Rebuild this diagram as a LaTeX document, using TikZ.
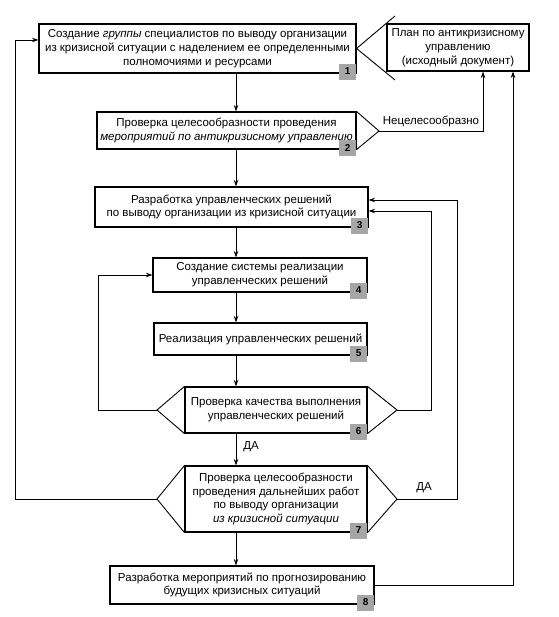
\documentclass[tikz,border=0pt]{standalone}
\usepackage{fontspec}
\setmainfont{Liberation Sans}
\usetikzlibrary{arrows.meta}
\begin{document}
\begin{tikzpicture}[x=1pt,y=-1pt,
  ln/.style={line width=0.9pt},
  arr/.style={line width=0.9pt,-{Stealth[length=6.5pt,width=4.5pt]}},
  box/.style={draw,line width=1.1pt,align=center,inner sep=0pt,fill=white,
    font=\fontsize{11.5}{13.8}\selectfont},
  badge/.style={fill=gray!70,draw=gray!70,minimum width=16pt,minimum height=15pt,
    inner sep=0pt,text=black,font=\fontsize{10}{10}\selectfont\bfseries},
  lbl/.style={inner sep=0pt,font=\fontsize{11.5}{13}\selectfont}]
\useasboundingbox (0,0) rectangle (558,617);

% main column x
\coordinate (ax) at (236,0);

\node[box,minimum width=317pt,minimum height=49pt] (b1) at (197.5,48.5)
  {Создание \textit{группы} специалистов по выводу организации\\из кризисной ситуации с наделением ее определенными\\полномочиями и ресурсами};
\node[box,minimum width=142pt,minimum height=47pt] (plan) at (458,47.5)
  {План по антикризисному\\управлению\\(исходный документ)};
\node[box,minimum width=259pt,minimum height=37pt] (b2) at (226.5,130.5)
  {Проверка целесообразности проведения\\\textit{мероприятий по антикризисному управлению}};
\node[box,minimum width=273pt,minimum height=40pt] (b3) at (231.5,207)
  {Разработка управленческих решений\\по выводу организации из кризисной ситуации};
\node[box,minimum width=214pt,minimum height=34pt] (b4) at (260,275)
  {Создание системы реализации\\управленческих решений};
\node[box,minimum width=213pt,minimum height=32pt] (b5) at (260.5,339)
  {Реализация управленческих решений};
\node[box,minimum width=182pt,minimum height=46pt] (b6) at (276,410)
  {Проверка качества выполнения\\управленческих решений};
\node[box,minimum width=182pt,minimum height=66pt] (b7) at (276,499)
  {Проверка целесообразности\\проведения дальнейших работ\\по выводу организации\\\textit{из кризисной ситуации}};
\node[box,minimum width=264pt,minimum height=38pt] (b8) at (242,585)
  {Разработка мероприятий по прогнозированию\\будущих кризисных ситуаций};

% wedge tips
\coordinate (pw1) at (395,16);
\coordinate (pw2) at (395,80);
\coordinate (t2) at (379,131);
\coordinate (t6l) at (157,410);
\coordinate (t6r) at (397,410);
\coordinate (t7l) at (157,499);
\coordinate (t7r) at (397,499);

\draw[ln] (pw1) -- (b1.east) -- (pw2);
\draw[ln] (b2.north east) -- (t2) -- (b2.south east);
\draw[ln] (b6.north west) -- (t6l) -- (b6.south west);
\draw[ln] (b6.north east) -- (t6r) -- (b6.south east);
\draw[ln] (b7.north west) -- (t7l) -- (b7.south west);
\draw[ln] (b7.north east) -- (t7r) -- (b7.south east);

% main flow
\draw[arr] (b1.south -| ax) -- (b2.north -| ax);
\draw[arr] (b2.south -| ax) -- (b3.north -| ax);
\draw[arr] (b3.south -| ax) -- (b4.north -| ax);
\draw[arr] (b4.south -| ax) -- (b5.north -| ax);
\draw[arr] (b5.south -| ax) -- (b6.north -| ax);
\draw[arr] (b6.south -| ax) -- node[lbl,right=7pt,pos=0.42]{ДА} (b7.north -| ax);
\draw[arr] (b7.south -| ax) -- (b8.north -| ax);

% feedback lines
\coordinate (xa) at (483,0);
\coordinate (xb) at (513,0);
\coordinate (xc) at (431,0);
\coordinate (xd) at (457,0);
\coordinate (xe) at (98,0);
\coordinate (xf) at (15,0);

\draw[arr] (t2) -- node[lbl,above=4pt]{Нецелесообразно} (t2 -| xa) -- (plan.south -| xa);
\draw[arr] (b8.east) -- (b8.east -| xb) -- (plan.south -| xb);
\draw[arr] (t6r) -- (t6r -| xc) -- (xc |- 0,211) -- (b3.east |- 0,211);
\draw[arr] (t7r) -- node[lbl,above=6pt,pos=0.45]{ДА} (t7r -| xd) -- (xd |- 0,200) -- (b3.east |- 0,200);
\draw[arr] (t6l) -- (t6l -| xe) -- (b4.west -| xe) -- (b4.west);
\draw[arr] (t7l) -- (t7l -| xf) -- (xf |- 0,40) -- (b1.west |- 0,40);

% badges
\foreach \b/\n in {b1/1,b2/2,b3/3,b4/4,b5/5,b6/6,b7/7,b8/8}
  \node[badge,anchor=center] (n\n) at ([xshift=-9pt,yshift=2pt]\b.south east) {\n};
\end{tikzpicture}
\end{document}
